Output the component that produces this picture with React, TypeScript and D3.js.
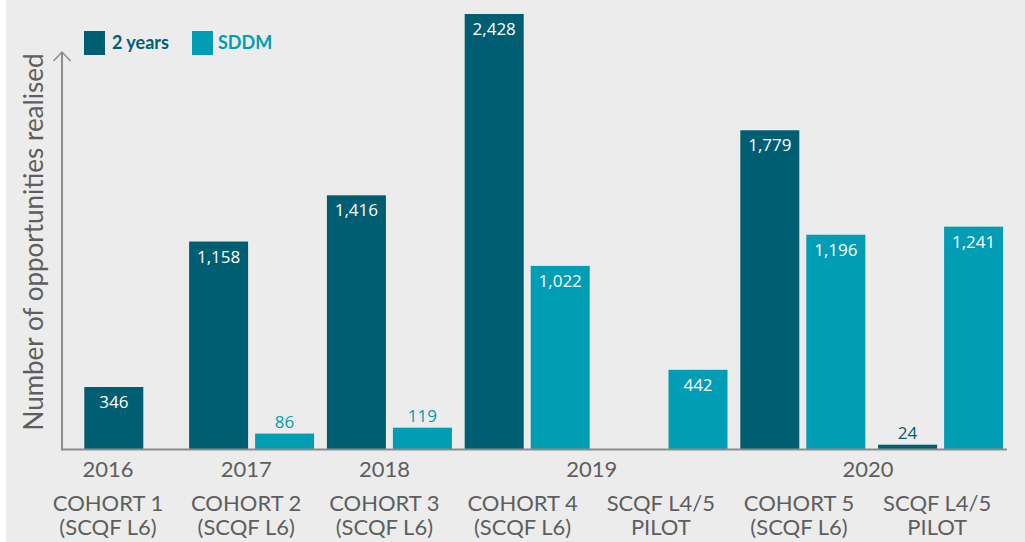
import React from "react";
import * as d3 from "d3";

const categories = ["COHORT 1", "COHORT 2", "COHORT 3", "COHORT 4", "SCQF L4/5", "COHORT 5", "SCQF L4/5 "];
const labelLine1 = ["COHORT 1", "COHORT 2", "COHORT 3", "COHORT 4", "SCQF L4/5", "COHORT 5", "SCQF L4/5"];
const labelLine2 = ["(SCQF L6)", "(SCQF L6)", "(SCQF L6)", "(SCQF L6)", "PILOT", "(SCQF L6)", "PILOT"];
const years = ["2016", "2017", "2018", "2019", "2019", "2020", "2020"];
const seriesNames = ["2 years", "SDDM"];
const twoYears: (number | null)[] = [346, 1158, 1416, 2428, null, 1779, 24];
const sddm: (number | null)[] = [null, 86, 119, 1022, 442, 1196, 1241];
const yAxisTitle = "Number of opportunities realised";

const DARK = "#005e73";
const LIGHT = "#009db5";
const GRAY_TEXT = "#5e5e5e";
const AXIS = "#8c8c8c";

export default function App() {
  const W = 1025;
  const H = 542;
  const base = 449;

  const y = d3.scaleLinear().domain([0, 2428]).range([base, 14]);
  const xBar = d3.scaleBand<string>().domain(categories).range([44.9, 1009.5]).padding(0);
  const xSeries = d3.scaleBand<string>().domain(seriesNames).range([0, 125]).paddingInner(7 / 66).paddingOuter(0);
  const xLabel = d3.scalePoint<string>().domain(categories).range([108, 937.2]).padding(0);
  const fmt = d3.format(",");

  const bars: { x: number; y: number; w: number; h: number; v: number; color: string; key: string }[] = [];
  categories.forEach((c, i) => {
    const center = (xBar(c) as number) + xBar.bandwidth() / 2;
    const vals = [twoYears[i], sddm[i]];
    const present = vals.filter((v) => v != null).length;
    vals.forEach((v, s) => {
      if (v == null) return;
      const bw = xSeries.bandwidth();
      let x0: number;
      if (present === 1 && s === 0) x0 = center - bw / 2;
      else x0 = center - 62.5 + (xSeries(seriesNames[s]) as number);
      bars.push({ x: x0, y: y(v), w: bw, h: base - y(v), v, color: s === 0 ? DARK : LIGHT, key: c + s });
    });
  });

  const yearGroups = Array.from(d3.group(categories.map((c, i) => ({ c, yr: years[i] })), (d) => d.yr), ([yr, arr]) => ({
    yr,
    x: d3.mean(arr, (d) => xLabel(d.c) as number) as number,
  }));

  const font = "Lato, 'Open Sans', sans-serif";

  return (
    <svg width={W} height={H} style={{ position: "absolute", left: 0, top: 0, display: "block" }}>
      <rect x={0} y={0} width={W} height={H} fill="#ffffff" />
      <rect x={6} y={0} width={W - 6} height={H} fill="#ececec" />

      {/* legend */}
      <rect x={84} y={31} width={21} height={24} fill={DARK} />
      <text x={112} y={49} fontFamily={font} fontWeight={700} fontSize={18} fill={DARK}>2 years</text>
      <rect x={192} y={31} width={21} height={24} fill={LIGHT} />
      <text x={218} y={49} fontFamily={font} fontWeight={700} fontSize={18} fill={LIGHT}>SDDM</text>

      {/* y axis title */}
      <text transform="translate(43,242) rotate(-90)" textAnchor="middle" fontFamily={font} fontSize={26} fill={GRAY_TEXT}>
        {yAxisTitle}
      </text>

      {bars.map((b) => {
        const inside = b.h > 40;
        return (
          <g key={b.key}>
            <rect x={b.x} y={b.y} width={b.w} height={b.h} fill={b.color} />
            <text
              x={b.x + b.w / 2}
              y={inside ? b.y + 21 : b.y - 6}
              textAnchor="middle"
              fontFamily="'Open Sans', sans-serif"
              fontSize={17}
              fill={inside ? "#ffffff" : b.color}
            >
              {fmt(b.v)}
            </text>
          </g>
        );
      })}

      {/* axes */}
      <line x1={62} y1={base + 0.5} x2={1007} y2={base + 0.5} stroke={AXIS} strokeWidth={2} />
      <line x1={62} y1={base + 1.5} x2={62} y2={52} stroke={AXIS} strokeWidth={2} />
      <polyline points="53.5,61 62,52 70.5,61" fill="none" stroke={AXIS} strokeWidth={1.5} />

      {yearGroups.map((g) => (
        <text key={g.yr} x={g.x} y={477} textAnchor="middle" fontFamily={font} fontSize={22} fill={GRAY_TEXT}>
          {g.yr}
        </text>
      ))}
      {categories.map((c, i) => (
        <g key={"lab" + c}>
          <text x={xLabel(c)} y={511} textAnchor="middle" fontFamily={font} fontSize={22} fill={GRAY_TEXT}>
            {labelLine1[i]}
          </text>
          <text x={xLabel(c)} y={535} textAnchor="middle" fontFamily={font} fontSize={22} fill={GRAY_TEXT}>
            {labelLine2[i]}
          </text>
        </g>
      ))}
    </svg>
  );
}
